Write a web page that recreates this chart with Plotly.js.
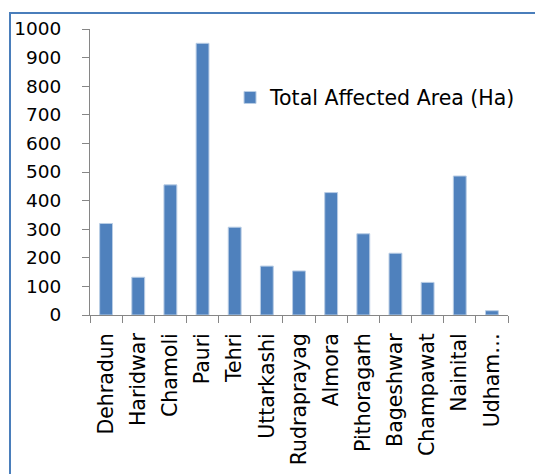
<!DOCTYPE html>
<html>
<head>
<meta charset="utf-8">
<script src="https://cdn.plot.ly/plotly-3.0.1.min.js"></script>
<style>
  html, body { margin: 0; padding: 0; background: #fff; overflow: hidden; }
  #wrap { position: relative; width: 535px; height: 474px; overflow: hidden; }
  #frame { position: absolute; left: 9px; top: 12px; width: 600px; height: 600px;
           border-left: 2px solid #4a7ebb; border-top: 2px solid #4a7ebb; }
  #chart { position: absolute; left: 0; top: 0; width: 535px; height: 474px; }
</style>
</head>
<body>
<div id="wrap">
  <div id="frame"></div>
  <div id="chart"></div>
</div>
<script>
const districts = ["Dehradun", "Haridwar", "Chamoli", "Pauri", "Tehri", "Uttarkashi",
  "Rudraprayag", "Almora", "Pithoragarh", "Bageshwar", "Champawat", "Nainital", "Udham Singh Nagar"];
const tickLabels = ["Dehradun", "Haridwar", "Chamoli", "Pauri", "Tehri", "Uttarkashi",
  "Rudraprayag", "Almora", "Pithoragarh", "Bageshwar", "Champawat", "Nainital", "Udham…"];
const affectedArea = [320, 132, 455, 950, 307, 171, 154, 428, 284, 216, 114, 486, 15];
const seriesName = "Total Affected Area (Ha)";

const font = { family: "DejaVu Sans, sans-serif", size: 20.5, color: "#000" };
const yFont = { family: "DejaVu Sans, sans-serif", size: 18.5, color: "#000" };

Plotly.newPlot("chart", [{
  type: "bar",
  x: districts,
  y: affectedArea,
  name: seriesName,
  marker: { color: "#4f81bd", line: { color: "#b9cde5", width: 1 } },
  showlegend: true
}], {
  width: 535, height: 474,
  margin: { l: 90, r: 27, t: 29, b: 159 },
  paper_bgcolor: "rgba(0,0,0,0)",
  plot_bgcolor: "rgba(0,0,0,0)",
  font: font,
  bargap: 0.6,
  showlegend: true,
  legend: { x: 0.335, y: 0.76, xanchor: "left", yanchor: "middle",
            font: font, bgcolor: "rgba(0,0,0,0)", itemwidth: 30 },
  xaxis: {
    type: "category",
    tickvals: districts, ticktext: tickLabels,
    tickangle: -90,
    tickson: "boundaries",
    ticks: "outside", ticklen: 7, tickcolor: "#868686",
    ticklabelstandoff: 9,
    showline: true, linecolor: "#868686", linewidth: 1,
    showgrid: false, zeroline: false,
    tickfont: font
  },
  yaxis: {
    range: [0, 1000], dtick: 100,
    ticks: "outside", ticklen: 7, tickcolor: "#868686",
    ticklabelstandoff: 17,
    showline: true, linecolor: "#868686", linewidth: 1,
    showgrid: false, zeroline: false,
    tickfont: yFont
  }
}, { staticPlot: true, displayModeBar: false });
</script>
</body>
</html>
